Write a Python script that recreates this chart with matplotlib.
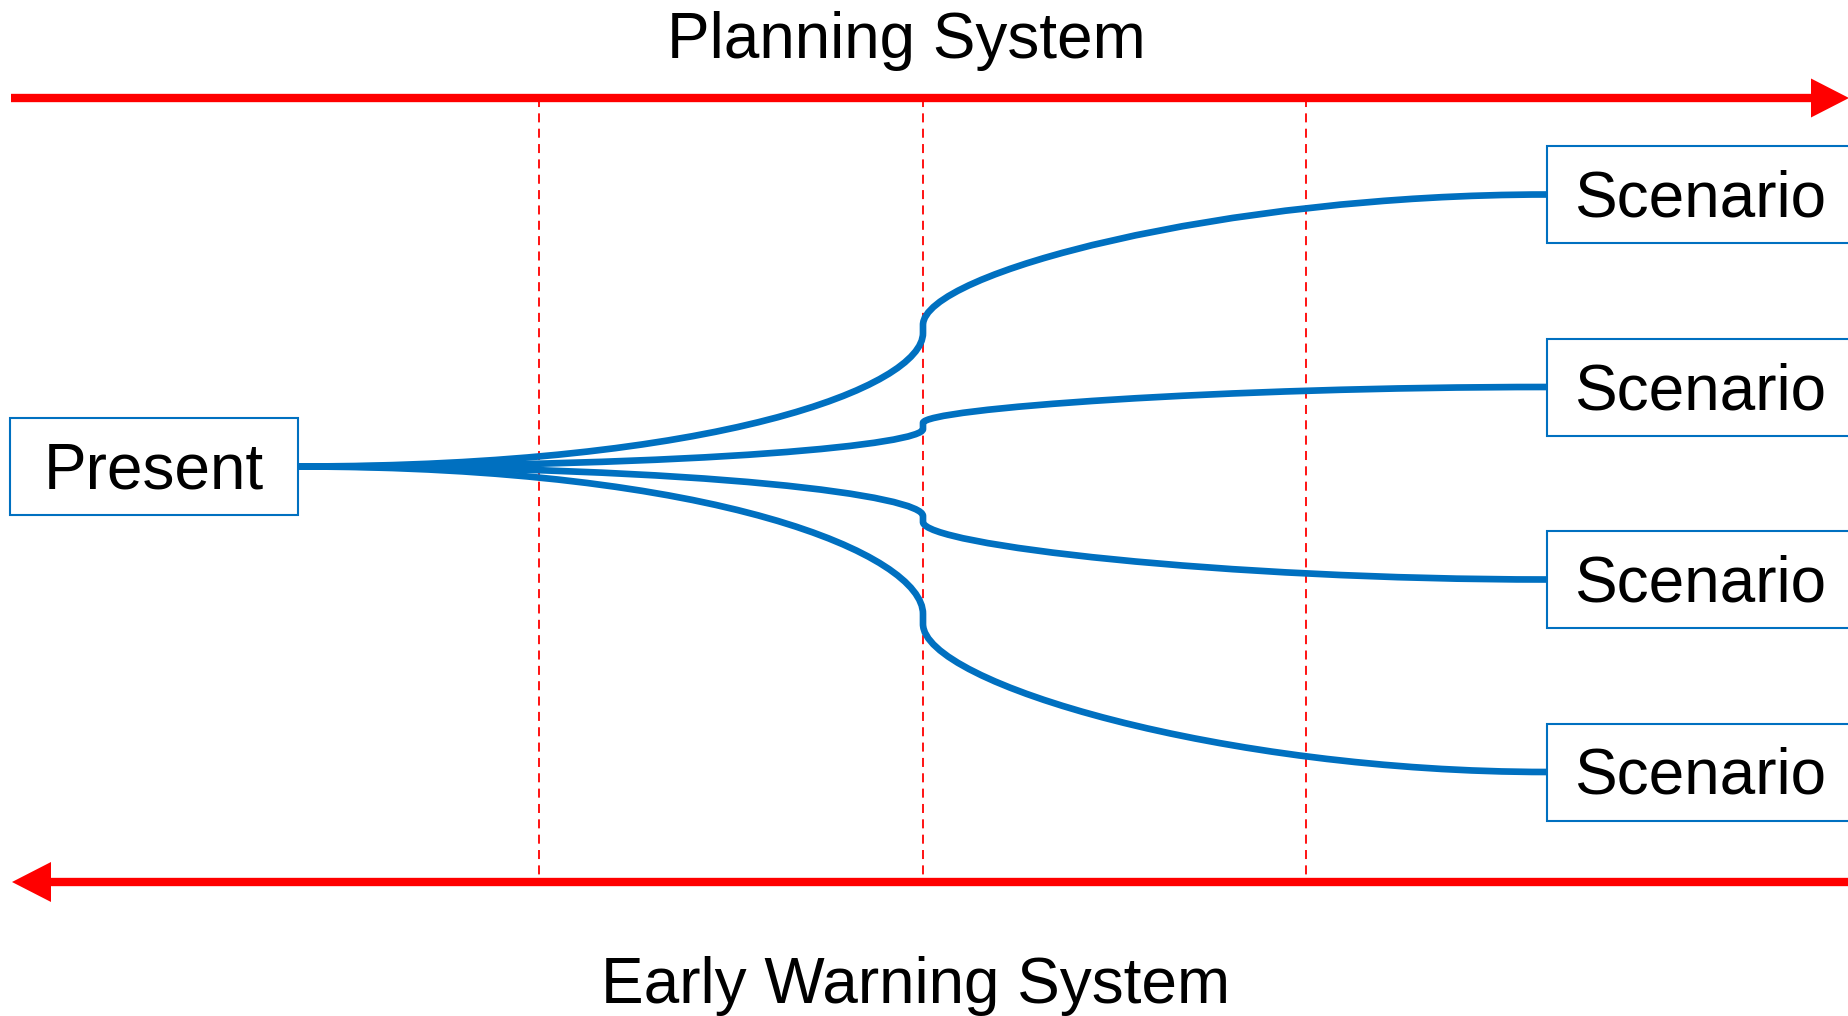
import matplotlib
matplotlib.use("Agg")
import matplotlib.pyplot as plt
from matplotlib.path import Path
from matplotlib.patches import PathPatch, Rectangle, Polygon

W, H = 1849, 1016
BLUE = "#0070C0"
RED = "#FF0000"

# ---- content ----
title_top = "Planning System"
title_bottom = "Early Warning System"
present_label = "Present"
scenario_labels = ["Scenario", "Scenario", "Scenario", "Scenario"]
scenario_centers_y = [194.5, 387.0, 579.5, 772.0]     # box centres (px)
kink_in_y = [333, 429, 516, 614]                       # end of first branch segment
kink_out_y = [325, 423, 522, 624]                      # start of second branch segment
divider_x = [539, 923, 1306]

fig = plt.figure(figsize=(W / 100, H / 100), dpi=100)
ax = fig.add_axes([0, 0, 1, 1])
ax.set_xlim(0, W)
ax.set_ylim(H, 0)
ax.axis("off")

FONT = ["Liberation Sans", "DejaVu Sans"]
FS = 46

# arrows
top_y, bot_y = 98, 882
ax.plot([11, 1812], [top_y, top_y], color=RED, lw=6, solid_capstyle="butt", zorder=3)
ax.add_patch(Polygon([[1811, top_y - 19.5], [1849, top_y], [1811, top_y + 19.5]],
                     closed=True, color=RED, lw=0, zorder=3))
ax.plot([50, 1849], [bot_y, bot_y], color=RED, lw=6, solid_capstyle="butt", zorder=3)
ax.add_patch(Polygon([[51, bot_y - 20], [12, bot_y], [51, bot_y + 20]],
                     closed=True, color=RED, lw=0, zorder=3))

# dashed dividers
for x in divider_x:
    ax.plot([x, x], [top_y, bot_y], color=RED, lw=1.3, linestyle=(0, (5, 3.5)), zorder=2)

# titles
ax.text(906, 41, title_top, ha="center", va="center", fontsize=FS, family=FONT)
ax.text(916, 986, title_bottom, ha="center", va="center", fontsize=FS, family=FONT)

# present box
px0, px1, py0, py1 = 10, 298, 418, 515
pcy = (py0 + py1) / 2
ax.add_patch(Rectangle((px0, py0), px1 - px0, py1 - py0, fill=True, fc="white",
                       ec=BLUE, lw=1.5, zorder=4))
ax.text((px0 + px1) / 2, pcy + 5, present_label, ha="center", va="center",
        fontsize=FS, family=FONT, zorder=5)

# scenario boxes and branches
sx0, bh = 1547, 97
kx = divider_x[1]
for lab, cy, ki, ko in zip(scenario_labels, scenario_centers_y, kink_in_y, kink_out_y):
    verts = [(px1, pcy), (px1 + 420, pcy), (kx, ki + 0.40 * (pcy - ki)), (kx, ki),
             (kx, ko),
             (kx, ko + 0.40 * (cy - ko)), (kx + 300, cy), (sx0, cy)]
    codes = [Path.MOVETO, Path.CURVE4, Path.CURVE4, Path.CURVE4,
             Path.LINETO,
             Path.CURVE4, Path.CURVE4, Path.CURVE4]
    ax.add_patch(PathPatch(Path(verts, codes), fill=False, ec=BLUE, lw=4.8,
                           capstyle="butt", joinstyle="round", zorder=3))
    ax.add_patch(Rectangle((sx0, cy - bh / 2), 400, bh, fill=True, fc="white",
                           ec=BLUE, lw=1.5, zorder=4, clip_on=True))
    ax.text(1700, cy + 5, lab, ha="center", va="center", fontsize=FS,
            family=FONT, zorder=5)

fig.savefig("out.png", dpi=100)
